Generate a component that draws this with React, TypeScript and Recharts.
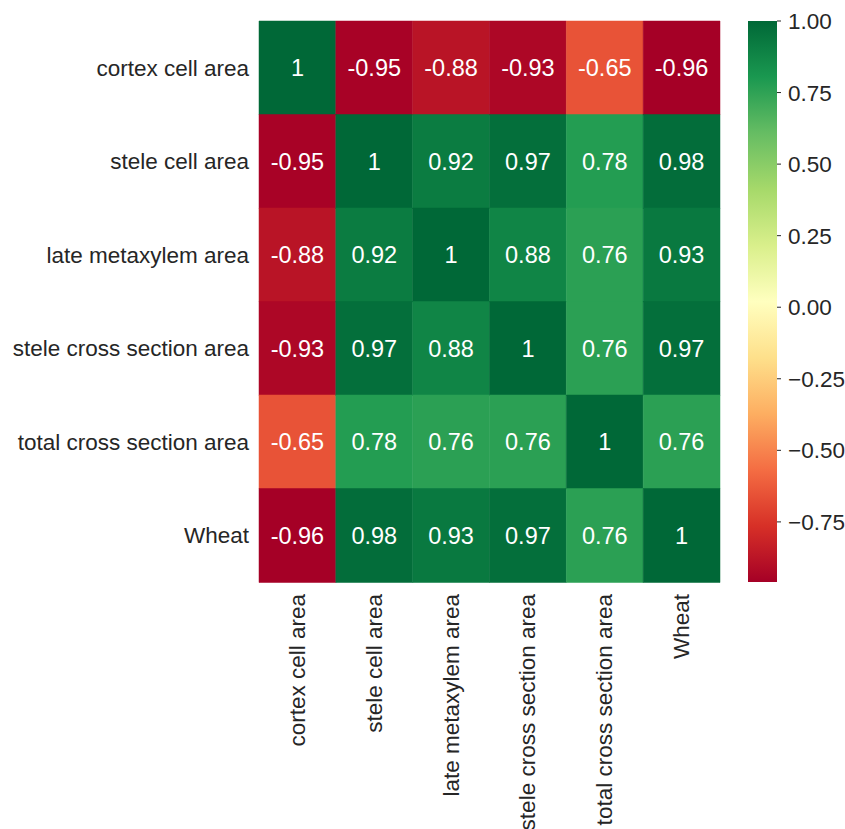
import React from 'react';
import {
  BarChart,
  Bar,
  XAxis,
  YAxis,
  Cell,
  LabelList
} from 'recharts';

// variable names (rows top->bottom, columns left->right)
const variables = [
  'cortex cell area',
  'stele cell area',
  'late metaxylem area',
  'stele cross section area',
  'total cross section area',
  'Wheat'
];

// correlation rows
const cortexCellArea = [1, -0.95, -0.88, -0.93, -0.65, -0.96];
const steleCellArea = [-0.95, 1, 0.92, 0.97, 0.78, 0.98];
const lateMetaxylemArea = [-0.88, 0.92, 1, 0.88, 0.76, 0.93];
const steleCrossSectionArea = [-0.93, 0.97, 0.88, 1, 0.76, 0.97];
const totalCrossSectionArea = [-0.65, 0.78, 0.76, 0.76, 1, 0.76];
const wheat = [-0.96, 0.98, 0.93, 0.97, 0.76, 1];

const colorbarTicks = [-0.75, -0.5, -0.25, 0, 0.25, 0.5, 0.75, 1];

const rows = [cortexCellArea, steleCellArea, lateMetaxylemArea, steleCrossSectionArea, totalCrossSectionArea, wheat];
const vmin = -0.96;
const vmax = 1;

// matplotlib RdYlGn
const RDYLGN = ['#a50026', '#d73027', '#f46d43', '#fdae61', '#fee08b', '#ffffbf', '#d9ef8b', '#a6d96a', '#66bd63', '#1a9850', '#006837'];

const hexToRgb = (h: string) => [parseInt(h.slice(1, 3), 16), parseInt(h.slice(3, 5), 16), parseInt(h.slice(5, 7), 16)];

const colorFor = (v: number) => {
  const t = Math.max(0, Math.min(1, (v - vmin) / (vmax - vmin))) * 10;
  const i = Math.min(9, Math.floor(t));
  const f = t - i;
  const a = hexToRgb(RDYLGN[i]);
  const b = hexToRgb(RDYLGN[i + 1]);
  const c = a.map((x, k) => Math.round(x + (b[k] - x) * f));
  return `rgb(${c[0]},${c[1]},${c[2]})`;
};

const chartData = variables.map((name, i) => {
  const row: any = { name };
  rows[i].forEach((v, j) => {
    row[`c${j}`] = 1;
    row[`v${j}`] = v;
  });
  return row;
});

const colorbarData = [{ name: 'cb', range: [vmin, vmax] }];

const TEXT = '#262626';

const RotatedTick = (props: any) => {
  const { x, y, payload } = props;
  const label = variables[Math.floor(payload.value)];
  return (
    <text
      x={x}
      y={y + 4}
      transform={`rotate(-90, ${x}, ${y + 4})`}
      textAnchor="end"
      dominantBaseline="central"
      fill={TEXT}
      fontSize={22.5}
    >
      {label}
    </text>
  );
};

const fmtCb = (v: number) => (v < 0 ? '\u2212' + Math.abs(v).toFixed(2) : v.toFixed(2));

export default function App() {
  return (
    <div style={{ position: 'relative', width: 845, height: 829, fontFamily: '"Liberation Sans", Arial, sans-serif', background: '#fff' }}>
      <style>{'body{margin:0;overflow:hidden}'}</style>
      <svg width={0} height={0} style={{ position: 'absolute' }}>
        <defs>
          <linearGradient id="cbGrad" x1="0" y1="0" x2="0" y2="1">
            {RDYLGN.map((c, k) => (
              <stop key={k} offset={`${k * 10}%`} stopColor={RDYLGN[10 - k]} />
            ))}
          </linearGradient>
        </defs>
      </svg>

      <div style={{ position: 'absolute', left: 0, top: 0 }}>
        <BarChart
          width={740}
          height={829}
          data={chartData}
          layout="vertical"
          margin={{ top: 21, right: 20, bottom: 0, left: 0 }}
          barCategoryGap={0}
          barGap={0}
        >
          <XAxis
            type="number"
            domain={[0, 6]}
            ticks={[0.5, 1.5, 2.5, 3.5, 4.5, 5.5]}
            height={247}
            axisLine={false}
            tickLine={false}
            interval={0}
            tick={<RotatedTick />}
          />
          <YAxis
            type="category"
            dataKey="name"
            width={259}
            axisLine={false}
            tickLine={false}
            tickMargin={4}
            interval={0}
            tick={{ fill: TEXT, fontSize: 22.5 }}
          />
          {variables.map((_, j) => (
            <Bar key={j} dataKey={`c${j}`} stackId="m" isAnimationActive={false}>
              {rows.map((r, i) => (
                <Cell key={i} fill={colorFor(r[j])} stroke={colorFor(r[j])} strokeWidth={0.5} />
              ))}
              <LabelList
                dataKey={`v${j}`}
                position="center"
                fill="#ffffff"
                fontSize={23.5}
                formatter={(v: any) => String(v)}
              />
            </Bar>
          ))}
        </BarChart>
      </div>

      <div style={{ position: 'absolute', left: 720, top: 0 }}>
        <BarChart
          width={125}
          height={829}
          data={colorbarData}
          margin={{ top: 21, right: 0, bottom: 247, left: 28 }}
          barCategoryGap={0}
        >
          <XAxis hide type="category" dataKey="name" height={0} />
          <YAxis
            orientation="right"
            type="number"
            domain={[vmin, vmax]}
            ticks={colorbarTicks}
            allowDataOverflow
            width={68}
            axisLine={false}
            tickSize={4}
            tickLine={{ stroke: TEXT }}
            tickMargin={7}
            tickFormatter={fmtCb}
            tick={{ fill: TEXT, fontSize: 22.5, textAnchor: 'start' }}
          />
          <Bar dataKey="range" fill="url(#cbGrad)" isAnimationActive={false} />
        </BarChart>
      </div>
    </div>
  );
}
